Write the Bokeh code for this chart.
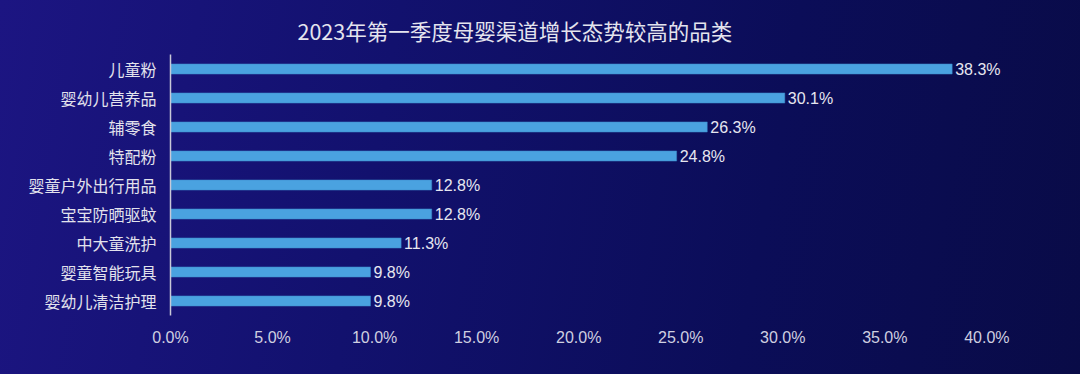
from bokeh.plotting import figure
from bokeh.models import ColumnDataSource, FactorRange, FixedTicker, PrintfTickFormatter
from bokeh.core.properties import value
from bokeh.embed import file_html
from bokeh.resources import INLINE

title_text = "2023年第一季度母婴渠道增长态势较高的品类"
categories = ["儿童粉", "婴幼儿营养品", "辅零食", "特配粉", "婴童户外出行用品",
              "宝宝防晒驱蚊", "中大童洗护", "婴童智能玩具", "婴幼儿清洁护理"]
values = [38.3, 30.1, 26.3, 24.8, 12.8, 12.8, 11.3, 9.8, 9.8]
x_ticks = [0, 5, 10, 15, 20, 25, 30, 35, 40]

labels = [f"{v:.1f}%" for v in values]
src = ColumnDataSource(dict(cat=categories, val=values, lab=labels))

p = figure(
    width=1080, height=374,
    y_range=FactorRange(*reversed(categories)),
    x_range=(0, 44),
    output_backend="svg", toolbar_location=None,
    min_border_left=170, min_border_right=12, min_border_top=54, min_border_bottom=59,
)
p.styles = {"background": "linear-gradient(100deg, #1c1582 0%, #12116e 35%, #0b0d58 70%, #090b47 100%)"}
p.background_fill_alpha = 0
p.border_fill_alpha = 0
p.outline_line_color = None
p.grid.visible = False

p.hbar(y="cat", right="val", left=0, height=0.35, source=src,
       fill_color="#4aa2e0", line_color="#3a86c8", line_width=0.5)

p.text(x="val", y="cat", text="lab", source=src, x_offset=3,
       text_baseline="middle", text_align="left",
       text_font=value("Liberation Sans"), text_font_size="16px", text_color="#e6e6f0")

p.title.text = title_text
p.title.align = "left"
p.title.offset = 127
p.title.text_font = "Noto Sans CJK SC"
p.title.text_font_size = "21.5px"
p.title.text_font_style = "normal"
p.title.text_color = "#e4e4ee"
p.title.standoff = 17

ya = p.yaxis[0]
ya.axis_line_color = "#c8c8d8"
ya.axis_line_width = 1.5
ya.major_tick_line_color = None
ya.minor_tick_line_color = None
ya.major_label_standoff = 8
ya.major_label_text_font = "Noto Sans CJK SC"
ya.major_label_text_font_size = "16px"
ya.major_label_text_color = "#e2e2ec"

xa = p.xaxis[0]
xa.ticker = FixedTicker(ticks=x_ticks)
xa.formatter = PrintfTickFormatter(format="%.1f%%")
xa.axis_line_color = None
xa.major_tick_line_color = None
xa.minor_tick_line_color = None
xa.major_label_standoff = 7
xa.major_label_text_font = "Liberation Sans"
xa.major_label_text_font_size = "16px"
xa.major_label_text_color = "#cfcfe0"

open("out.html", "w").write(file_html(p, INLINE))
